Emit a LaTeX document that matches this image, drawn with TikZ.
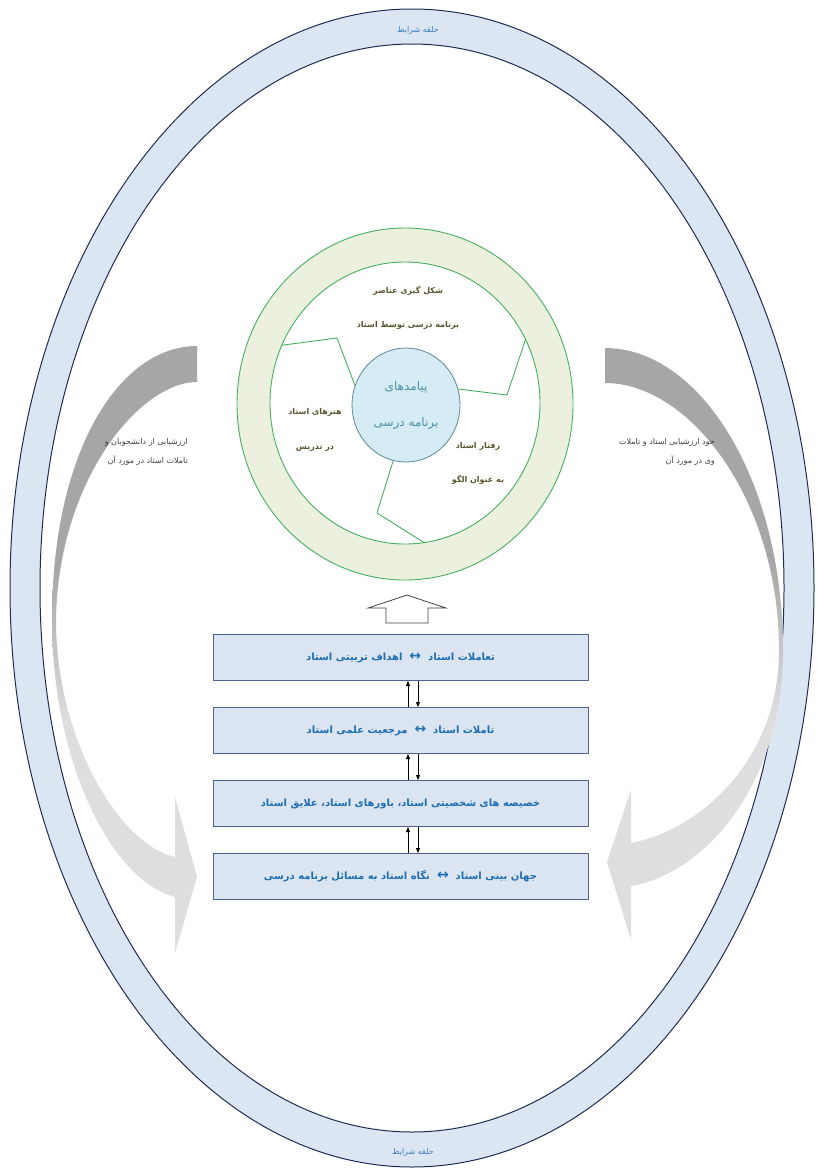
\documentclass[tikz,border=0pt]{standalone}
\usepackage{fontspec}
\usetikzlibrary{shapes.geometric,positioning,arrows.meta}
\newfontfamily\farsi[Script=Arabic]{DejaVu Sans}
\TeXXeTstate=1
\newcommand{\fatext}[1]{\beginR#1\endR}
\newcommand{\both}{\ \ {\fontsize{14}{11}\selectfont ↔}\ \ }
\definecolor{ringblue}{RGB}{220,230,242}
\definecolor{ringedge}{RGB}{31,45,84}
\definecolor{ringtext}{RGB}{58,125,190}
\definecolor{wheelfill}{RGB}{235,241,222}
\definecolor{wheeledge}{RGB}{70,175,95}
\definecolor{wheeltext}{RGB}{90,85,45}
\definecolor{corefill}{RGB}{214,236,244}
\definecolor{coreedge}{RGB}{90,135,155}
\definecolor{coretext}{RGB}{75,145,170}
\definecolor{stagefill}{RGB}{219,229,241}
\definecolor{stageedge}{RGB}{75,100,145}
\definecolor{stagetext}{RGB}{30,110,180}
\definecolor{notetext}{RGB}{64,64,64}
\definecolor{fadedark}{RGB}{166,166,166}
\definecolor{fadelight}{RGB}{222,222,222}
\pgfdeclareverticalshading{grayfade}{100bp}{color(0bp)=(fadelight); color(44bp)=(fadelight); color(57bp)=(fadedark); color(100bp)=(fadedark)}
\tikzset{
  ringlabel/.style={font=\farsi\fontsize{8}{10}\selectfont, text=ringtext, inner sep=1pt},
  wheellabel/.style={font=\farsi\bfseries\fontsize{8}{10}\selectfont, text=wheeltext, align=center, inner sep=1pt},
  wheelline/.style={draw=wheeledge, line width=0.9pt},
  stage/.style={draw=stageedge, line width=1pt, fill=stagefill, minimum width=375pt, minimum height=46pt, inner sep=0pt, font=\farsi\bfseries\fontsize{10}{12}\selectfont, text=stagetext},
  sidenote/.style={font=\farsi\fontsize{8}{10}\selectfont, text=notetext, align=right, inner sep=0pt},
  link/.style={-{Triangle[length=5pt,width=4pt]}, line width=0.8pt},
}
\begin{document}
\begin{tikzpicture}[x=1pt,y=-1pt]
\useasboundingbox (0,0) rectangle (817,1170);
% outer ring
\fill[ringblue, even odd rule] (412,588) ellipse [x radius=402pt, y radius=579pt] (412,588) ellipse [x radius=372pt, y radius=544pt];
\draw[ringedge, line width=1pt] (412,588) ellipse [x radius=402pt, y radius=579pt];
\draw[ringedge, line width=1pt] (412,588) ellipse [x radius=372pt, y radius=544pt];
\node[ringlabel] (ringtop) at (418,30) {\fatext{حلقه شرایط}};
\node[ringlabel] (ringbottom) at (413,1152) {\fatext{حلقه شرایط}};
% curved feedback arrows
\shade[shading=grayfade] (197,346) .. controls (120,346) and (52,450) .. (52,620)
  .. controls (52,760) and (110,880) .. (175,897) -- (175,953) -- (197,877) -- (175,797) -- (175,857)
  .. controls (120,845) and (56,740) .. (56,620)
  .. controls (58,480) and (140,382) .. (197,382) -- cycle;
\shade[shading=grayfade] (605,348) .. controls (700,348) and (783,480) .. (783,650)
  .. controls (783,790) and (700,875) .. (631,886) -- (631,940) -- (607,862) -- (631,790) -- (631,843)
  .. controls (700,830) and (779,760) .. (779,650)
  .. controls (779,500) and (690,383) .. (605,383) -- cycle;
\node[sidenote, anchor=east] (peerreview) at (188,452) {\fatext{ارزشیابی از دانشجویان و}\\[9pt]\fatext{تاملات استاد در مورد آن}};
\node[sidenote, anchor=east] (selfreview) at (715,452) {\fatext{خود ارزشیابی استاد و تاملات}\\[9pt]\fatext{وی در مورد آن}};
% wheel
\node[ellipse, wheelline, fill=wheelfill, minimum width=336pt, minimum height=352pt, inner sep=0pt] (wheel) at (405,404) {};
\node[ellipse, wheelline, fill=white, minimum width=270pt, minimum height=282pt, inner sep=0pt] (hub) at (405,403) {};
\node[ellipse, draw=coreedge, line width=0.8pt, fill=corefill, minimum width=108pt, minimum height=114pt, inner sep=0pt,
  font=\farsi\fontsize{12}{14}\selectfont, text=coretext, align=center] (core) at (406,405) {\fatext{پیامدهای}\\[22pt]\fatext{برنامه درسی}};
\draw[wheelline] (hub.155) -- (337,338) -- (core.159);
\draw[wheelline] (hub.28) -- (507,395) -- (core.17);
\draw[wheelline] (core.-103) -- (377,513) -- (hub.-82);
\node[wheellabel] (shaping) at (408,308) {\fatext{شکل گیری عناصر}\\[24pt]\fatext{برنامه درسی توسط استاد}};
\node[wheellabel] (arts) at (315,430) {\fatext{هنرهای استاد}\\[25pt]\fatext{در تدریس}};
\node[wheellabel] (model) at (478,463) {\fatext{رفتار استاد}\\[24pt]\fatext{به عنوان الگو}};
% hollow arrow
\draw[draw=black!75, fill=white, line width=0.8pt] (407,595) -- (446,608) -- (428,608) -- (428,623) -- (386,623) -- (386,608) -- (368,608) -- cycle;
% stages
\node[stage] (goal) at (400.5,657.5) {\fatext{تعاملات استاد\both اهداف تربیتی استاد}};
\node[stage, below=26pt of goal] (mentor) {\fatext{تاملات استاد\both مرجعیت علمی استاد}};
\node[stage, below=26pt of mentor] (traits) {\fatext{خصیصه های شخصیتی استاد، باورهای استاد، علایق استاد}};
\node[stage, below=26pt of traits] (worldview) {\fatext{جهان بینی استاد\both نگاه استاد به مسائل برنامه درسی}};
\foreach \src/\dst in {goal/mentor, mentor/traits, traits/worldview}
  {
    \draw[link] ([xshift=7.5pt]\dst.north) -- ([xshift=7.5pt]\src.south);
    \draw[link] ([xshift=17.5pt]\src.south) -- ([xshift=17.5pt]\dst.north);
  }
\end{tikzpicture}
\end{document}
